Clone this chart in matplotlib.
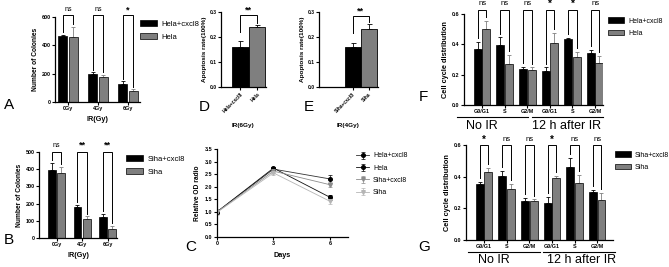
import numpy as np
import matplotlib
matplotlib.use("Agg")
import matplotlib.pyplot as plt
from matplotlib.lines import Line2D
from matplotlib.patches import Patch

plt.rcParams['font.family'] = ['Liberation Sans', 'DejaVu Sans']

# ---------------- data ----------------
dose_cats = ["0Gy", "4Gy", "6Gy"]
a_hela_cxcl8 = [465, 195, 128]
a_hela_cxcl8_err = [10, 15, 18]
a_hela = [462, 178, 75]
a_hela_err = [70, 15, 15]
a_sig = ["ns", "ns", "*"]

b_siha_cxcl8 = [398, 180, 125]
b_siha_cxcl8_err = [40, 12, 15]
b_siha = [378, 108, 52]
b_siha_err = [35, 18, 20]
b_sig = ["ns", "**", "**"]

d_cats = ["Hela+cxcl8", "Hela"]
d_vals = [0.162, 0.240]
d_err = [0.022, 0.010]
e_cats = ["Siha+cxcl8", "Siha"]
e_vals = [0.162, 0.232]
e_err = [0.015, 0.020]

c_days = [0, 3, 6]
c_hela_cxcl8 = [1.0, 2.70, 2.31]
c_hela_cxcl8_err = [0.08, 0.08, 0.15]
c_hela = [1.0, 2.74, 1.58]
c_hela_err = [0.06, 0.06, 0.10]
c_siha_cxcl8 = [1.0, 2.62, 2.08]
c_siha_cxcl8_err = [0.10, 0.08, 0.10]
c_siha = [0.98, 2.55, 1.42]
c_siha_err = [0.10, 0.08, 0.12]

cc_cats = ["G0/G1", "S", "G2/M", "G0/G1", "S", "G2/M"]
f_hela_cxcl8 = [0.368, 0.398, 0.236, 0.224, 0.434, 0.342]
f_hela_cxcl8_err = [0.050, 0.048, 0.014, 0.024, 0.006, 0.020]
f_hela = [0.500, 0.268, 0.232, 0.410, 0.316, 0.276]
f_hela_err = [0.055, 0.060, 0.016, 0.066, 0.036, 0.046]
f_sig = ["ns", "ns", "ns", "*", "*", "ns"]

g_siha_cxcl8 = [0.352, 0.402, 0.244, 0.234, 0.464, 0.304]
g_siha_cxcl8_err = [0.016, 0.034, 0.024, 0.040, 0.052, 0.010]
g_siha = [0.430, 0.322, 0.246, 0.392, 0.358, 0.250]
g_siha_err = [0.026, 0.034, 0.010, 0.012, 0.055, 0.044]
g_sig = ["*", "ns", "ns", "*", "ns", "ns"]

GREY = "#7f7f7f"
W, H = 669, 267
fig = plt.figure(figsize=(W / 100, H / 100), dpi=100)


def px_axes(l, t, r, b):
    return fig.add_axes([l / W, 1 - b / H, (r - l) / W, (b - t) / H])


def ftext(x, y, s, **kw):
    fig.text(x / W, 1 - y / H, s, **kw)


def style(ax, tick_fs=3.9):
    for s in ["top", "right"]:
        ax.spines[s].set_visible(False)
    for s in ["left", "bottom"]:
        ax.spines[s].set_linewidth(0.9)
    ax.tick_params(length=2, width=0.8, pad=1.2, labelsize=tick_fs)
    for lab in ax.get_xticklabels() + ax.get_yticklabels():
        lab.set_fontweight("bold")


def bracket(ax, x1, x2, y1, y2, top, label, txt_y, fs=5):
    ax.plot([x1, x1, x2, x2], [y1, top, top, y2], color="black", lw=0.7,
            clip_on=False, solid_joinstyle="miter")
    if label.startswith("*"):
        ax.text((x1 + x2) / 2, txt_y, label, ha="center", va="center",
                fontsize=fs + 1.5, fontweight="bold", clip_on=False)
    else:
        ax.text((x1 + x2) / 2, txt_y, label, ha="center", va="center",
                fontsize=fs, clip_on=False)


def grouped(ax, v1, e1, v2, e2, width, off, gap, top, txt_y, sig, sig_fs=5):
    x = np.arange(len(v1))
    z = np.zeros(len(v1))
    ax.bar(x - off, v1, width, color="black", edgecolor="black", lw=0.5, zorder=2)
    ax.bar(x + off, v2, width, color=GREY, edgecolor="black", lw=0.5, zorder=2)
    ax.errorbar(x - off, v1, yerr=[z, e1], fmt="none", ecolor="black",
                elinewidth=0.6, capsize=1.4, capthick=0.6, zorder=1)
    ax.errorbar(x + off, v2, yerr=[z, e2], fmt="none", ecolor=GREY,
                elinewidth=0.6, capsize=1.4, capthick=0.6, zorder=1)
    for i in range(len(v1)):
        bracket(ax, x[i] - off, x[i] + off, v1[i] + e1[i] + gap,
                v2[i] + e2[i] + gap, top, sig[i], txt_y, fs=sig_fs)


def bar_legend(ax, labels, x, y, fs):
    ax.legend(handles=[Patch(facecolor="black", edgecolor="black", lw=0.5, label=labels[0]),
                       Patch(facecolor=GREY, edgecolor="black", lw=0.5, label=labels[1])],
              loc="upper left", bbox_to_anchor=(x / W, 1 - y / H), bbox_transform=fig.transFigure,
              frameon=False, fontsize=fs, handlelength=2.2, handleheight=0.9,
              labelspacing=0.7, borderpad=0, handletextpad=0.6)


# ---------------- Panel A ----------------
axA = px_axes(55, 17, 140, 102)
grouped(axA, a_hela_cxcl8, a_hela_cxcl8_err, a_hela, a_hela_err,
        0.3, 0.17, 18, 614, 650, a_sig)
axA.set_ylim(0, 600)
axA.set_xlim(-0.43, 2.4)
axA.set_yticks([0, 200, 400, 600])
axA.set_xticks(range(3))
axA.set_xticklabels(dose_cats)
axA.set_ylabel("Number of Colonies", fontsize=4.8, fontweight="bold", labelpad=2)
axA.set_xlabel("IR(Gy)", fontsize=5.2, fontweight="bold", labelpad=3)
style(axA)
bar_legend(axA, ["Hela+cxcl8", "Hela"], 136, 16, 5.5)

# ---------------- Panel B ----------------
axB = px_axes(39, 152, 117, 238)
grouped(axB, b_siha_cxcl8, b_siha_cxcl8_err, b_siha, b_siha_err,
        0.31, 0.18, 15, 500, 540, b_sig)
axB.set_ylim(0, 500)
axB.set_xlim(-0.69, 2.37)
axB.set_yticks([0, 100, 200, 300, 400, 500])
axB.set_xticks(range(3))
axB.set_xticklabels(dose_cats)
axB.set_ylabel("Number of Colonies", fontsize=4.8, fontweight="bold", labelpad=2)
axB.set_xlabel("IR(Gy)", fontsize=5.2, fontweight="bold", labelpad=3)
style(axB)
bar_legend(axB, ["Siha+cxcl8", "Siha"], 122, 151, 5.5)


# ---------------- Panels D & E ----------------
def single(ax, cats, vals, errs, xlim, xlabel, top, legs):
    x = np.arange(2)
    ax.bar(x, vals, 1.0, color=["black", GREY], edgecolor="black", lw=0.6, zorder=2)
    ax.errorbar(x, vals, yerr=[[0, 0], errs], fmt="none", ecolor="black",
                elinewidth=0.6, capsize=1.8, capthick=0.6, zorder=1)
    bracket(ax, 0, 1, legs[0], legs[1], top, "**", top + 0.018, fs=5)
    ax.set_ylim(0, 0.3)
    ax.set_xlim(*xlim)
    ax.set_yticks([0.0, 0.1, 0.2, 0.3])
    ax.set_xticks(x)
    ax.set_xticklabels(cats, rotation=45, ha="right", rotation_mode="anchor")
    ax.set_ylabel("Apoptosis rate(100%)", fontsize=4.6, fontweight="bold", labelpad=2)
    ax.set_xlabel(xlabel, fontsize=4.6, fontweight="bold", labelpad=7)
    style(ax, tick_fs=3.6)


axD = px_axes(221, 12, 266, 87)
single(axD, d_cats, d_vals, d_err, (-1.18, 1.55), "IR(6Gy)", 0.288, (0.222, 0.258))
axE = px_axes(319, 12, 378, 87)
single(axE, e_cats, e_vals, e_err, (-2.1, 1.56), "IR(4Gy)", 0.285, (0.215, 0.26))

# ---------------- Panel C ----------------
axC = px_axes(217, 149, 348, 237)
series = [
    (c_hela_cxcl8, c_hela_cxcl8_err, "Hela+cxcl8", "#333333", "black", "o", 2.6),
    (c_hela, c_hela_err, "Hela", "#111111", "black", "o", 2.6),
    (c_siha_cxcl8, c_siha_cxcl8_err, "Siha+cxcl8", "#8c8c8c", "#8c8c8c", "v", 2.6),
    (c_siha, c_siha_err, "Siha", "#b5b5b5", "#b5b5b5", "v", 2.6),
]
for vals, errs, lab, lc, mc, mk, ms in series:
    axC.errorbar(c_days, vals, yerr=errs, color=lc, lw=0.6, marker=mk, ms=ms,
                 mfc=mc, mec=mc, ecolor=mc, elinewidth=0.5, capsize=1.5, capthick=0.5,
                 label=lab)
axC.set_xlim(0, 6.96)
axC.set_ylim(0, 3.5)
axC.set_xticks(c_days)
axC.set_yticks(np.arange(0, 3.51, 0.5))
axC.set_xlabel("Days", fontsize=5.2, fontweight="bold", labelpad=4)
axC.set_ylabel("Relative OD radio", fontsize=4.8, fontweight="bold", labelpad=3)
style(axC)
hC, lC = axC.get_legend_handles_labels()
axC.legend(hC, lC, loc="upper left", bbox_to_anchor=(353 / W, 1 - 149 / H),
           bbox_transform=fig.transFigure, frameon=False, fontsize=5.0,
           handlelength=1.8, labelspacing=0.75, borderpad=0, handletextpad=0.6)


# ---------------- Panels F & G ----------------
def cellcycle(ax, v1, e1, v2, e2, sig, top, txt_y, xlim, labels, lx, ly):
    grouped(ax, v1, e1, v2, e2, 0.35, 0.19, 0.025, top, txt_y, sig, sig_fs=5.5)
    ax.set_ylim(0, 0.6)
    ax.set_xlim(*xlim)
    ax.set_yticks([0.0, 0.2, 0.4, 0.6])
    ax.set_xticks(range(6))
    ax.set_xticklabels(cc_cats)
    ax.set_ylabel("Cell cycle distribution", fontsize=5.3, fontweight="bold", labelpad=2)
    style(ax, tick_fs=3.9)
    bar_legend(ax, labels, lx, ly, 5.0)


axF = px_axes(464, 14, 603, 105)
cellcycle(axF, f_hela_cxcl8, f_hela_cxcl8_err, f_hela, f_hela_err, f_sig,
          0.626, 0.666, (-0.8, 5.35), ["Hela+cxcl8", "Hela"], 605, 14)
axG = px_axes(466, 145, 613, 240)
cellcycle(axG, g_siha_cxcl8, g_siha_cxcl8_err, g_siha, g_siha_err, g_sig,
          0.60, 0.635, (-0.8, 5.7), ["Siha+cxcl8", "Siha"], 612, 148)

# underlines and group labels
for (x1, x2, y) in [(457, 528, 117), (532, 603, 117), (468, 540, 252), (543, 615, 252)]:
    fig.add_artist(Line2D([x1 / W, x2 / W], [1 - y / H, 1 - y / H], color="black", lw=0.8))
ftext(482, 126, "No IR", fontsize=9, ha="center", va="center")
ftext(567, 126, "12 h after IR", fontsize=9, ha="center", va="center")
ftext(494, 260, "No IR", fontsize=9, ha="center", va="center")
ftext(582, 260, "12 h after IR", fontsize=9, ha="center", va="center")

# panel letters
for lab, x, y in [("A", 9, 105), ("B", 9, 240), ("C", 191, 247), ("D", 204, 107),
                  ("E", 309, 107), ("F", 423, 97), ("G", 424, 247)]:
    ftext(x, y, lab, fontsize=11, ha="center", va="center")

fig.savefig("out.png", dpi=100)
